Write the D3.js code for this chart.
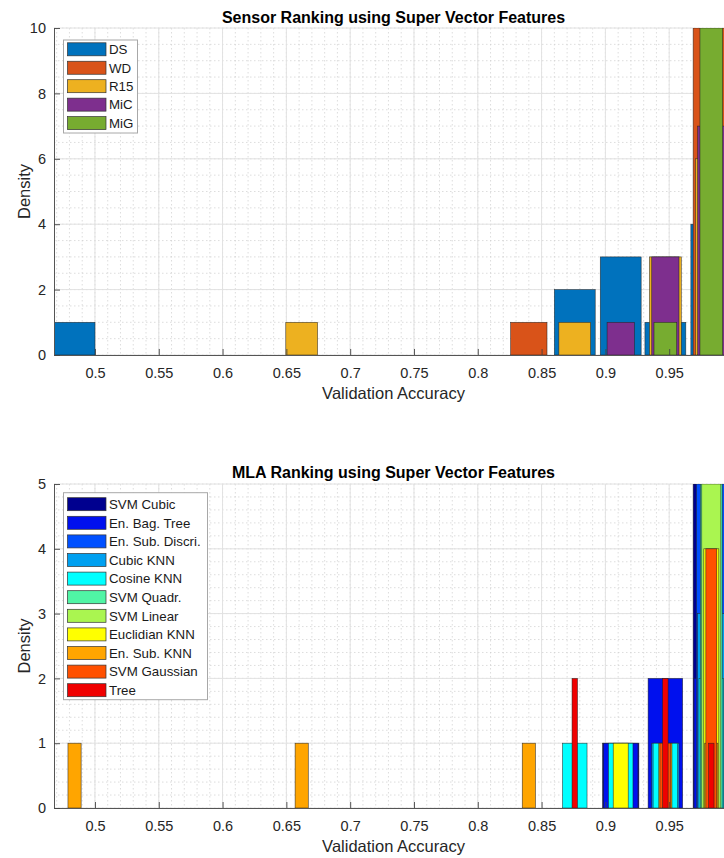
<!DOCTYPE html>
<html>
<head>
<meta charset="utf-8">
<script src="https://cdn.jsdelivr.net/npm/d3@7"></script>
<style>
  body { margin: 0; background: #fff; }
  svg { display: block; font-family: "Liberation Sans", Arial, Helvetica, sans-serif; }
</style>
</head>
<body>
<svg id="fig" width="724" height="858"></svg>
<script>
// Histogram bins shared by both panels (validation accuracy)
const binCenters = [0.484, 0.520, 0.555, 0.591, 0.627, 0.662, 0.698, 0.733,
                    0.769, 0.805, 0.840, 0.876, 0.912, 0.947, 0.983];
const binStep = 0.0356;

// Panel 1: accuracies grouped by sensor
const sensors   = ["DS", "WD", "R15", "MiC", "MiG"];
const dsCounts  = [1, 0, 0, 0, 0, 0, 0, 0, 0, 0, 0, 2, 3, 1, 4];
const wdCounts  = [0, 0, 0, 0, 0, 0, 0, 0, 0, 0, 1, 0, 0, 0, 10];
const r15Counts = [0, 0, 0, 0, 0, 1, 0, 0, 0, 0, 0, 1, 0, 3, 6];
const micCounts = [0, 0, 0, 0, 0, 0, 0, 0, 0, 0, 0, 0, 1, 3, 7];
const migCounts = [0, 0, 0, 0, 0, 0, 0, 0, 0, 0, 0, 0, 0, 1, 10];

// Panel 2: accuracies grouped by machine-learning algorithm
const mlas = ["SVM Cubic", "En. Bag. Tree", "En. Sub. Discri.", "Cubic KNN", "Cosine KNN",
              "SVM Quadr.", "SVM Linear", "Euclidian KNN", "En. Sub. KNN", "SVM Gaussian", "Tree"];
const svmCubicCounts    = [0, 0, 0, 0, 0, 0, 0, 0, 0, 0, 0, 0, 1, 0, 5];
const enBagTreeCounts   = [0, 0, 0, 0, 0, 0, 0, 0, 0, 0, 0, 0, 1, 2, 2];
const enSubDiscriCounts = [0, 0, 0, 0, 0, 0, 0, 0, 0, 0, 0, 0, 0, 0, 5];
const cubicKnnCounts    = [0, 0, 0, 0, 0, 0, 0, 0, 0, 0, 0, 0, 0, 1, 3];
const cosineKnnCounts   = [0, 0, 0, 0, 0, 0, 0, 0, 0, 0, 0, 1, 1, 1, 2];
const svmQuadrCounts    = [0, 0, 0, 0, 0, 0, 0, 0, 0, 0, 0, 0, 0, 0, 5];
const svmLinearCounts   = [0, 0, 0, 0, 0, 0, 0, 0, 0, 0, 0, 0, 0, 0, 5];
const euclidKnnCounts   = [0, 0, 0, 0, 0, 0, 0, 0, 0, 0, 0, 0, 1, 0, 4];
const enSubKnnCounts    = [1, 0, 0, 0, 0, 1, 0, 0, 0, 0, 1, 0, 0, 1, 1];
const svmGaussianCounts = [0, 0, 0, 0, 0, 0, 0, 0, 0, 0, 0, 0, 0, 1, 4];
const treeCounts        = [0, 0, 0, 0, 0, 0, 0, 0, 0, 0, 0, 2, 0, 2, 1];

const xTickValues = [0.5, 0.55, 0.6, 0.65, 0.7, 0.75, 0.8, 0.85, 0.9, 0.95];

// Styling
const sensorColors = ["#0072BD", "#D95319", "#EDB120", "#7E2F8E", "#77AC30"];
const sensorBarFrac = [0.9, 0.8, 0.7, 0.6, 0.5];
const mlaColors = ["#00008F", "#0010EE", "#0050FF", "#00A0F0", "#00FFFF",
                   "#50F5A5", "#AAF550", "#FFFF00", "#FFA500", "#FF5000", "#F00000"];
const mlaBarFrac = [0.80, 0.76, 0.66, 0.60, 0.54, 0.48, 0.42, 0.33, 0.29, 0.24, 0.12];

const svg = d3.select("#fig");
const x = d3.scaleLinear().domain([0.4679, 1.0]).range([54, 733]);

function drawPanel(opts) {
  const { top, bottom, yMax, yTicks, yMinorStep, title, titleY, xLabelY,
          series, names, colors, fracs, legend, clipId } = opts;
  const y = d3.scaleLinear().domain([0, yMax]).range([bottom, top]);
  const g = svg.append("g");
  const [x0, x1] = x.range();

  // minor grid (dotted)
  const minorX = d3.range(47, 101).map(i => i / 100);
  g.append("g").selectAll("line").data(minorX).join("line")
    .attr("x1", d => x(d)).attr("x2", d => x(d))
    .attr("y1", top).attr("y2", bottom)
    .attr("stroke", "#cfcfcf").attr("stroke-width", 0.7)
    .attr("stroke-dasharray", "1.5,2.5");
  const minorY = d3.range(0, yMax + 1e-9, yMinorStep);
  g.append("g").selectAll("line").data(minorY).join("line")
    .attr("x1", x0).attr("x2", x1)
    .attr("y1", d => y(d)).attr("y2", d => y(d))
    .attr("stroke", "#cfcfcf").attr("stroke-width", 0.7)
    .attr("stroke-dasharray", "1.5,2.5");
  // major grid (solid)
  g.append("g").selectAll("line").data(xTickValues.concat([1])).join("line")
    .attr("x1", d => x(d)).attr("x2", d => x(d))
    .attr("y1", top).attr("y2", bottom)
    .attr("stroke", "#e2e2e2").attr("stroke-width", 1);
  g.append("g").selectAll("line").data(yTicks).join("line")
    .attr("x1", x0).attr("x2", x1)
    .attr("y1", d => y(d)).attr("y2", d => y(d))
    .attr("stroke", "#e2e2e2").attr("stroke-width", 1);

  // bars, drawn series by series so later series sit on top
  svg.append("clipPath").attr("id", clipId)
    .append("rect").attr("x", x0).attr("y", top)
    .attr("width", x1 - x0).attr("height", bottom - top);
  const barsG = g.append("g").attr("clip-path", `url(#${clipId})`);
  series.forEach((counts, si) => {
    const half = binStep * fracs[si] / 2;
    const bins = binCenters.map((c, i) => ({ c, n: counts[i] })).filter(d => d.n > 0);
    barsG.append("g").selectAll("rect").data(bins).join("rect")
      .attr("x", d => x(d.c - half))
      .attr("width", d => x(d.c + half) - x(d.c - half))
      .attr("y", d => y(d.n))
      .attr("height", d => y(0) - y(d.n))
      .attr("fill", colors[si])
      .attr("stroke", "#222").attr("stroke-width", 0.6).attr("stroke-opacity", 0.85);
  });

  // axes with inward ticks
  const xAxis = d3.axisBottom(x).tickValues(xTickValues)
    .tickFormat(d3.format("")).tickSizeInner(-6).tickSizeOuter(0).tickPadding(13);
  const gx = g.append("g").attr("transform", `translate(0,${bottom})`).call(xAxis);
  const yAxis = d3.axisLeft(y).tickValues(yTicks)
    .tickFormat(d3.format("d")).tickSizeInner(-6).tickSizeOuter(0).tickPadding(8);
  const gy = g.append("g").attr("transform", `translate(${x0},0)`).call(yAxis);
  [gx, gy].forEach(a => {
    a.select(".domain").attr("stroke", "#555").attr("stroke-width", 1);
    a.selectAll(".tick line").attr("stroke", "#444").attr("stroke-width", 0.9);
    a.selectAll(".tick text").attr("fill", "#262626")
      .style("font-size", "14.5px").style("font-family", "Liberation Sans, Arial, sans-serif");
  });

  // title and labels
  g.append("text").attr("x", (x0 + x1) / 2).attr("y", titleY)
    .attr("text-anchor", "middle").attr("font-weight", "bold")
    .attr("font-size", 16).attr("fill", "#000").text(title);
  g.append("text").attr("x", (x0 + x1) / 2).attr("y", xLabelY)
    .attr("text-anchor", "middle").attr("font-size", 16.5).attr("fill", "#262626")
    .text("Validation Accuracy");
  g.append("text").attr("transform", `translate(30,${(top + bottom) / 2}) rotate(-90)`)
    .attr("text-anchor", "middle").attr("font-size", 16.5).attr("fill", "#262626")
    .text("Density");

  // legend
  const lg = g.append("g");
  lg.append("rect").attr("x", legend.x).attr("y", legend.y)
    .attr("width", legend.w).attr("height", legend.h)
    .attr("fill", "#fff").attr("stroke", "#a8a8a8").attr("stroke-width", 1);
  names.forEach((name, i) => {
    const cy = legend.y + legend.first + i * legend.step;
    lg.append("rect").attr("x", legend.x + 4).attr("y", cy - 6.5)
      .attr("width", 38.5).attr("height", 13)
      .attr("fill", colors[i]).attr("stroke", "#333").attr("stroke-width", 0.7);
    lg.append("text").attr("x", legend.x + 45.5).attr("y", cy + 4.8)
      .attr("font-size", 13.3).attr("fill", "#1a1a1a").text(name);
  });
}

drawPanel({
  top: 28, bottom: 355, yMax: 10, yTicks: [0, 2, 4, 6, 8, 10], yMinorStep: 0.5,
  title: "Sensor Ranking using Super Vector Features", titleY: 23, xLabelY: 399,
  series: [dsCounts, wdCounts, r15Counts, micCounts, migCounts],
  names: sensors, colors: sensorColors, fracs: sensorBarFrac,
  legend: { x: 63.5, y: 40, w: 74, h: 93, first: 9.3, step: 18.45 },
  clipId: "clipTop"
});

drawPanel({
  top: 484, bottom: 808, yMax: 5, yTicks: [0, 1, 2, 3, 4, 5], yMinorStep: 0.2,
  title: "MLA Ranking using Super Vector Features", titleY: 477.5, xLabelY: 852,
  series: [svmCubicCounts, enBagTreeCounts, enSubDiscriCounts, cubicKnnCounts, cosineKnnCounts,
           svmQuadrCounts, svmLinearCounts, euclidKnnCounts, enSubKnnCounts, svmGaussianCounts, treeCounts],
  names: mlas, colors: mlaColors, fracs: mlaBarFrac,
  legend: { x: 63.5, y: 492.7, w: 144, h: 207, first: 11.5, step: 18.6 },
  clipId: "clipBottom"
});
</script>
</body>
</html>
